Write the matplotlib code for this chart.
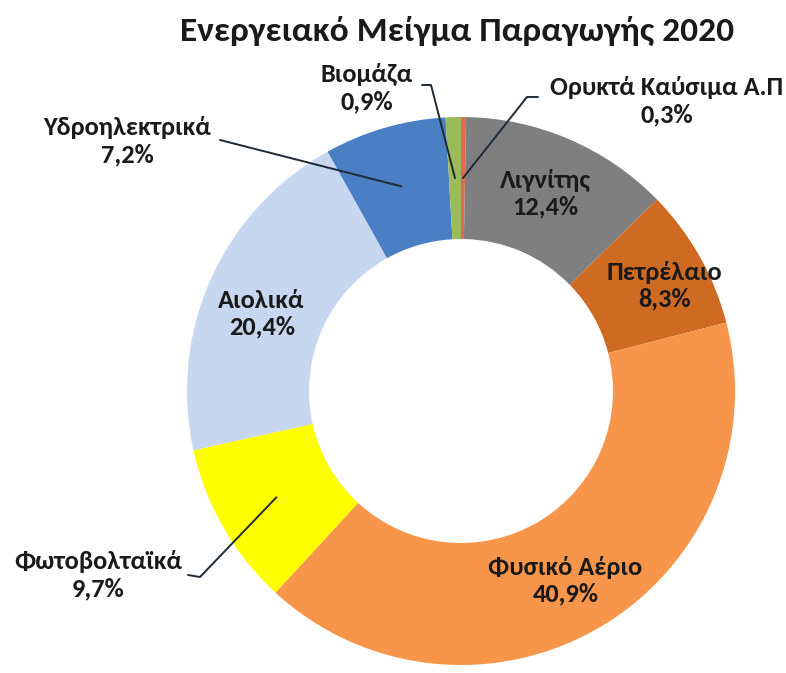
import numpy as np
import matplotlib
matplotlib.use("Agg")
import matplotlib.pyplot as plt

plt.rcParams["font.family"] = ["Carlito", "Liberation Sans", "DejaVu Sans"]

# Energy mix 2020, clockwise from 12 o'clock
sources = [
    "Ορυκτά Καύσιμα Α.Π",
    "Λιγνίτης",
    "Πετρέλαιο",
    "Φυσικό Αέριο",
    "Φωτοβολταϊκά",
    "Αιολικά",
    "Υδροηλεκτρικά",
    "Βιομάζα",
]
shares = [0.3, 12.4, 8.3, 40.9, 9.7, 20.4, 7.2, 0.9]
colors = ["#e0694f", "#7f7f7f", "#cf6a22", "#f7964a",
          "#ffff00", "#c6d7ef", "#4a7fc4", "#9bbb59"]

W, H = 786, 673
CX, CY = 461, 391
R_OUT = 274
R_IN = 152
R_MID = (R_OUT + R_IN) / 2

fig = plt.figure(figsize=(W / 100, H / 100), dpi=100)
ax = fig.add_axes([0, 0, 1, 1])

# with the y axis flipped below, counterclock=True draws clockwise on screen
ax.pie(
    shares,
    colors=colors,
    startangle=-90,
    counterclock=True,
    center=(CX, CY),
    radius=R_OUT,
    wedgeprops=dict(width=R_OUT - R_IN, linewidth=0),
)

# pie() resets the limits, so set pixel-style coordinates afterwards
ax.set_xlim(0, W)
ax.set_ylim(H, 0)
ax.set_aspect("equal")
ax.axis("off")


def ring_point(i, r=R_MID):
    """Point at the angular middle of slice i, measured clockwise from the top."""
    start = sum(shares[:i])
    mid = (start + shares[i] / 2) / sum(shares) * 2 * np.pi
    return CX + r * np.sin(mid), CY - r * np.cos(mid)


def label(i, x, y, size=19):
    pct = f"{shares[i]:.1f}%".replace(".", ",")
    ax.text(x, y, f"{sources[i]}\n{pct}",
            ha="center", va="center", fontsize=size, fontweight="bold",
            color="#1a1a1a", linespacing=1.2)


# labels inside the ring
inside = {1: (0, -2), 2: (18, -1), 3: (-5, 7), 5: (-5, 10)}
for i, (dx, dy) in inside.items():
    x, y = ring_point(i)
    label(i, x + dx, y + dy)

# labels outside with leader lines
outside = {
    0: ((667, 101), [(538, 97), (527, 97)]),
    7: ((367, 88), [(422, 85), (431, 85)]),
    6: ((127, 141), [(220, 140)]),
    4: ((98, 575), [(188, 575), (200, 577)]),
}
for i, ((tx, ty), path) in outside.items():
    label(i, tx, ty)
    pts = path + [ring_point(i)]
    ax.plot([p[0] for p in pts], [p[1] for p in pts],
            color="#1f2a36", linewidth=1.4, solid_capstyle="round")

ax.text(457, 31, "Ενεργειακό Μείγμα Παραγωγής 2020",
        ha="center", va="center", fontsize=25.5, fontweight="bold",
        color="#1a1a1a")

fig.savefig("out.png", dpi=100)
plt.close(fig)
